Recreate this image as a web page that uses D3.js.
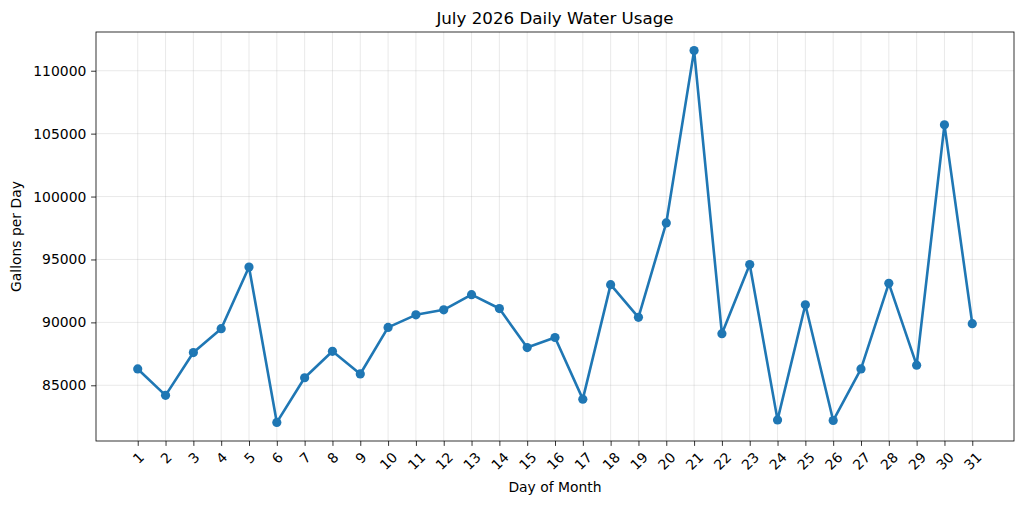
<!DOCTYPE html>
<html>
<head>
<meta charset="utf-8">
<script src="https://cdn.jsdelivr.net/npm/d3@7"></script>
<style>
  body { margin: 0; background: #fff; }
  svg { display: block; font-family: "DejaVu Sans", sans-serif; }
  .grid line { stroke: #b0b0b0; stroke-opacity: 0.35; stroke-width: 0.8; }
  .axis text { fill: #000; font-size: 13.9px; font-family: "DejaVu Sans", sans-serif; }
  .axis line, .axis path { stroke: #000; stroke-width: 0.8; }
</style>
</head>
<body>
<svg id="chart" width="1024" height="505"></svg>
<script>
var days = d3.range(1, 32);
var gallons = [
    86300, 84200, 87600, 89500, 94400, 82050, 85600, 87700, 85900, 89600,
    90600, 91000, 92200, 91100, 88000, 88800, 83900, 93000, 90400, 97900,
    111600, 89100, 94600, 82250, 91400, 82200, 86300, 93100, 86600, 105700,
    89900
];
var yTicks = [85000, 90000, 95000, 100000, 105000, 110000];

var LEFT = 96, RIGHT = 1014, TOP = 32, BOTTOM = 441;
var TICK_PAD = 9.7;

var svg = d3.select('#chart');

/** matplotlib style 5% margins on both axes */
function padded(extent) {
    var span = extent[1] - extent[0];
    return [extent[0] - 0.05 * span, extent[1] + 0.05 * span];
}

var x = d3.scaleLinear().domain(padded(d3.extent(days))).range([LEFT, RIGHT]);
var y = d3.scaleLinear().domain(padded(d3.extent(gallons))).range([BOTTOM, TOP]);

var grid = svg.append('g').attr('class', 'grid');
grid.selectAll('.vx').data(days).enter().append('line')
    .attr('x1', function(d){ return x(d); }).attr('x2', function(d){ return x(d); })
    .attr('y1', TOP).attr('y2', BOTTOM);
grid.selectAll('.hy').data(yTicks).enter().append('line')
    .attr('y1', function(d){ return y(d); }).attr('y2', function(d){ return y(d); })
    .attr('x1', LEFT).attr('x2', RIGHT);

// y axis
var yAxis = svg.append('g').attr('class', 'axis')
    .attr('transform', 'translate(' + LEFT + ',0)')
    .call(d3.axisLeft(y).tickValues(yTicks).tickSize(4.9).tickPadding(4.8).tickFormat(d3.format('d')));
yAxis.select('.domain').remove();

// x axis, labels rotated 45 degrees and centred under the tick
var xAxis = svg.append('g').attr('class', 'axis')
    .attr('transform', 'translate(0,' + BOTTOM + ')')
    .call(d3.axisBottom(x).tickValues(days).tickSize(4.9).tickFormat(d3.format('d')));
xAxis.select('.domain').remove();
xAxis.selectAll('.tick text').each(function() {
    var t = d3.select(this);
    var w = this.getComputedTextLength();
    var h = 11;
    var box = (w + h) / Math.SQRT2;
    t.attr('y', null).attr('dy', null)
        .attr('text-anchor', 'middle')
        .attr('dominant-baseline', 'central')
        .attr('transform', 'translate(0,' + (TICK_PAD + box / 2) + ') rotate(-45)');
});

// frame
svg.append('rect')
    .attr('x', LEFT).attr('y', TOP)
    .attr('width', RIGHT - LEFT).attr('height', BOTTOM - TOP)
    .attr('fill', 'none').attr('stroke', '#000').attr('stroke-width', 0.8);

// series
var line = d3.line()
    .x(function(d, i){ return x(days[i]); })
    .y(function(d){ return y(d); });

svg.append('path')
    .datum(gallons)
    .attr('d', line)
    .attr('fill', 'none')
    .attr('stroke', '#1f77b4')
    .attr('stroke-width', 2.6)
    .attr('stroke-linejoin', 'round');

svg.selectAll('.pt').data(gallons).enter().append('circle')
    .attr('class', 'pt')
    .attr('cx', function(d, i){ return x(days[i]); })
    .attr('cy', function(d){ return y(d); })
    .attr('r', 4.6)
    .attr('fill', '#1f77b4');

// titles
svg.append('text')
    .attr('x', (LEFT + RIGHT) / 2).attr('y', 24)
    .attr('text-anchor', 'middle')
    .style('font-size', '16.7px')
    .text('July 2026 Daily Water Usage');

svg.append('text')
    .attr('x', (LEFT + RIGHT) / 2).attr('y', 492)
    .attr('text-anchor', 'middle')
    .style('font-size', '13.9px')
    .text('Day of Month');

svg.append('text')
    .attr('transform', 'translate(21,' + ((TOP + BOTTOM) / 2) + ') rotate(-90)')
    .attr('text-anchor', 'middle')
    .style('font-size', '13.9px')
    .text('Gallons per Day');
</script>
</body>
</html>
